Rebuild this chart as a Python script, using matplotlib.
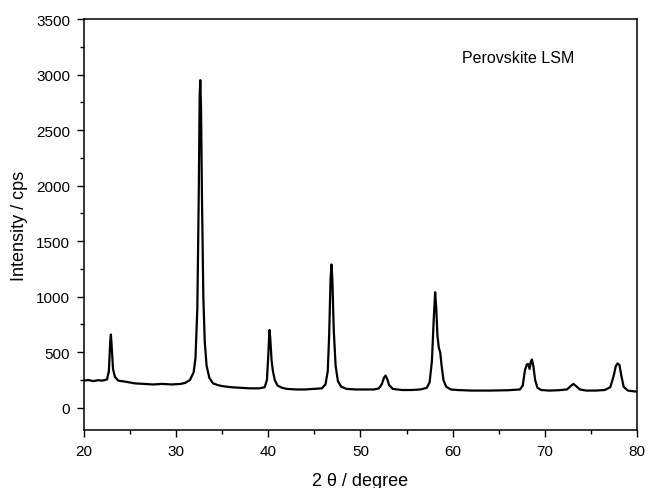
import numpy as np
import matplotlib.pyplot as plt

plt.rcParams['font.family'] = ['Liberation Sans', 'DejaVu Sans']

# XRD pattern (2 theta in degree, intensity in cps)
two_theta = [20.0, 20.5, 21.0, 21.5, 22.0, 22.5, 22.7, 22.85, 22.92, 23.0, 23.15, 23.35, 23.7,
             24.5, 25.5, 26.5, 27.5, 28.5, 29.5, 30.5, 31.0, 31.5, 31.9, 32.1, 32.3, 32.45,
             32.55, 32.62, 32.7, 32.8, 32.95, 33.1, 33.3, 33.6, 34.0, 34.5, 35.0, 36.0, 37.0,
             38.0, 39.0, 39.6, 39.85, 40.0, 40.12, 40.2, 40.35, 40.5, 40.7, 41.0, 41.5, 42.0,
             43.0, 44.0, 45.0, 45.8, 46.2, 46.45, 46.6, 46.75, 46.85, 46.95, 47.1, 47.3, 47.55,
             47.9, 48.5, 49.5, 50.5, 51.5, 52.0, 52.3, 52.55, 52.72, 52.9, 53.1, 53.5, 54.5,
             55.5, 56.5, 57.2, 57.5, 57.75, 57.95, 58.1, 58.22, 58.35, 58.5, 58.65, 58.8, 59.0,
             59.3, 59.8, 60.5, 62.0, 64.0, 66.0, 67.3, 67.6, 67.85, 68.05, 68.2, 68.35, 68.5,
             68.6, 68.75, 68.95, 69.2, 69.6, 70.5, 71.5, 72.4, 72.8, 73.1, 73.4, 73.8, 74.5,
             75.5, 76.5, 77.1, 77.45, 77.7, 77.9, 78.1, 78.3, 78.55, 79.0, 79.5, 80.0]
intensity = [245, 250, 240, 248, 245, 255, 330, 600, 660, 560, 350, 280, 245,
             235, 220, 215, 210, 215, 210, 215, 225, 250, 320, 450, 900, 1900,
             2800, 2950, 2700, 1900, 1000, 600, 380, 270, 220, 205, 195, 185, 180,
             175, 175, 185, 250, 480, 700, 640, 430, 330, 250, 200, 180, 170,
             165, 165, 170, 175, 210, 330, 650, 1150, 1290, 1150, 700, 380, 240,
             190, 170, 165, 165, 165, 175, 210, 270, 290, 260, 205, 170, 160,
             160, 165, 180, 230, 420, 800, 1040, 900, 650, 540, 500, 380, 250,
             190, 165, 160, 155, 155, 158, 165, 200, 340, 390, 395, 350, 420,
             435, 380, 250, 180, 160, 155, 158, 165, 195, 215, 195, 165, 155,
             155, 160, 185, 280, 375, 400, 385, 290, 190, 155, 150, 145]

x_ticks = [20, 30, 40, 50, 60, 70, 80]
y_ticks = [0, 500, 1000, 1500, 2000, 2500, 3000, 3500]

fig = plt.figure(figsize=(6.48, 4.89), dpi=100)
ax = fig.add_axes([0.1296, 0.1186, 0.8534, 0.8404])
ax.plot(two_theta, intensity, color='black', lw=1.6)

ax.set_xlim(20, 80)
ax.set_ylim(-200, 3500)
ax.set_xticks(x_ticks)
ax.set_yticks(y_ticks)
ax.set_xticks(np.arange(25, 80, 10), minor=True)
ax.set_yticks(np.arange(250, 3500, 500), minor=True)
ax.tick_params(which='major', direction='out', length=5, width=1, labelsize=11, pad=5)
ax.tick_params(which='minor', direction='out', length=3, width=1)
ax.tick_params(top=False, right=False)
for s in ax.spines.values():
    s.set_linewidth(1.1)

ax.set_xlabel('2 θ / degree', fontsize=13, labelpad=10)
ax.set_ylabel('Intensity / cps', fontsize=13, labelpad=6)
ax.text(61.0, 3150, 'Perovskite LSM', fontsize=11.5, va='center')

fig.savefig('out.png', dpi=100)
